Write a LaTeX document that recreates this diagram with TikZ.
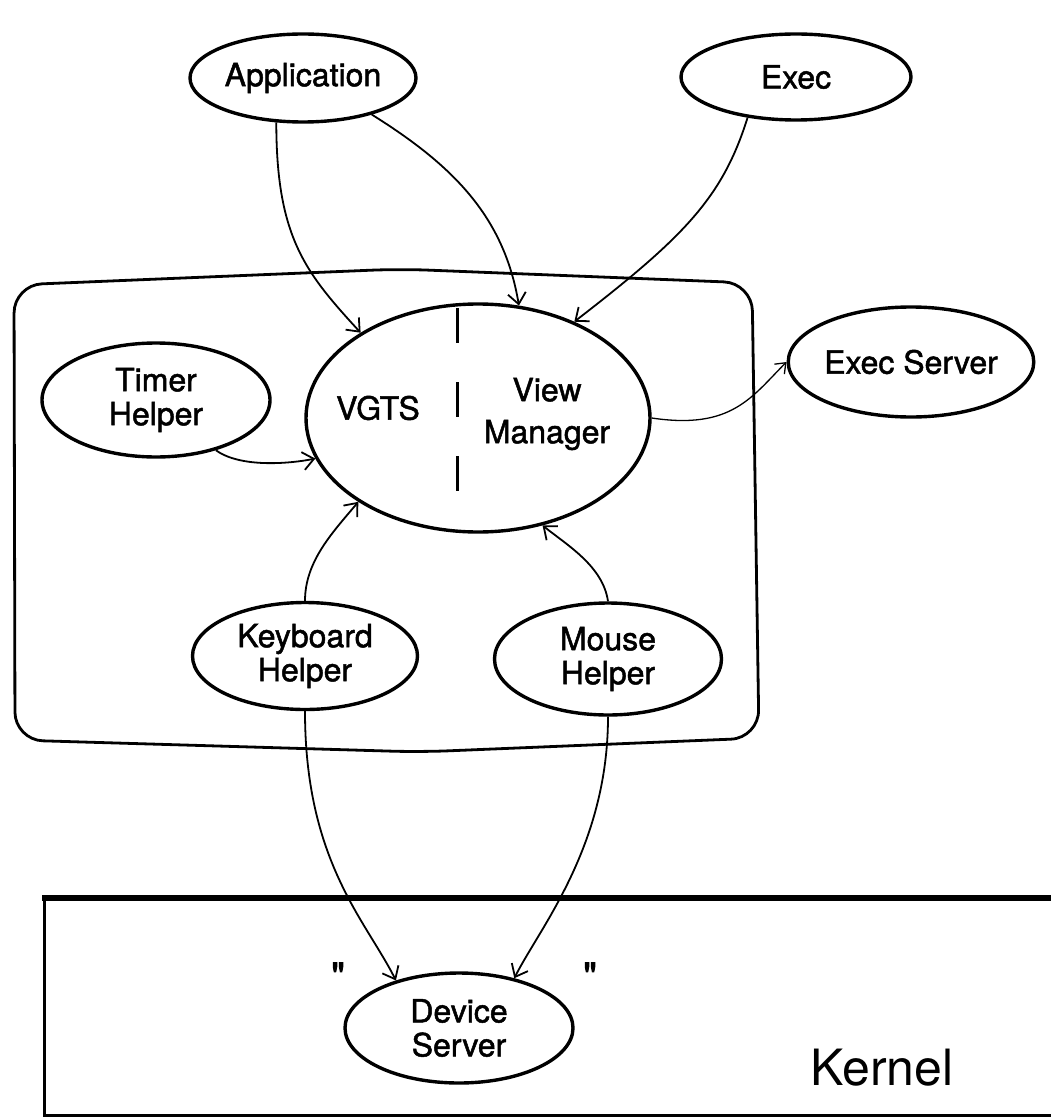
\documentclass[tikz,border=0pt]{standalone}
\usepackage{fontspec}
\setmainfont{TeX Gyre Heros}
\newfontfamily\lblfont{TeX Gyre Heros}[FakeBold=1.5]
\newfontfamily\qfont{TeX Gyre Heros}[Ligatures=TeXOff,FakeBold=2.5]
\usetikzlibrary{shapes.geometric,arrows.meta}
\begin{document}
\begin{tikzpicture}[x=1pt,y=-1pt,
  proc/.style={draw,ellipse,line width=3.4pt,inner sep=0pt,align=center,font=\lblfont\fontsize{32}{34}\selectfont},
  conn/.style={line width=1.8pt,-{Straight Barb[length=11pt,width=18pt]}},
  thinconn/.style={line width=1.3pt,-{Straight Barb[length=9pt,width=14pt]}},
  lbl/.style={font=\lblfont\fontsize{32}{34}\selectfont,align=center,inner sep=0pt},
  quote/.style={font=\qfont\fontsize{38}{40}\selectfont,inner sep=0pt}]
\useasboundingbox (0,0) rectangle (1051,1118);
\clip (0,0) rectangle (1051,1118);

% frames
\draw[line width=2.8pt,rounded corners=28pt] (15,740) -- (14,285) -- (400,269) -- (752,283) -- (759,738) -- (420,752) -- cycle;
\draw[line width=3pt] (1070,1115) -- (44,1115) -- (44,898);
\draw[line width=5.5pt] (42,898) -- (1070,898);

% nodes
\node[proc,minimum width=226pt,minimum height=88pt] (app) at (303,78) {Application};
\node[proc,minimum width=230pt,minimum height=86pt] (exec) at (796,77) {Exec};
\node[proc,minimum width=228pt,minimum height=114pt] (timer) at (156,400) {Timer\\Helper};
\node[proc,minimum width=344pt,minimum height=228pt] (vgts) at (478,418) {};
\node[proc,minimum width=228pt,minimum height=110pt] (es) at (911,362) {Exec Server};
\node[proc,minimum width=225pt,minimum height=107pt] (kb) at (305,656) {Keyboard\\Helper};
\node[proc,minimum width=227pt,minimum height=112pt] (mh) at (608,659) {Mouse\\Helper};
\node[proc,minimum width=228pt,minimum height=110pt] (ds) at (459,1028) {Device\\Server};
\node[lbl] (vg) at (378,408) {VGTS};
\node[lbl,font=\lblfont\fontsize{32}{42}\selectfont] (vm) at (547,414) {View\\Manager};
\node[font=\fontsize{50}{52}\selectfont,inner sep=0pt] (kern) at (882,1068) {Kernel};
\node[quote] (q1) at (338,976) {"};
\node[quote] (q2) at (590,976) {"};

% divider
\draw[line width=3pt,dash pattern=on 35pt off 39pt] (457,308) -- (457,495);

% connectors
\draw[conn] (app.239) .. controls +(0,115) and +(-55,-60) .. (vgts.144);
\draw[conn] (app.-28) .. controls +(80,50) and +(-15,-90) .. (vgts.70);
\draw[conn] (exec.220) .. controls +(-25,80) and +(110,-85) .. (vgts.45);
\draw[conn] (timer.320) .. controls +(25,18) and +(-25,5) .. (vgts.194);
\draw[thinconn] (vgts.0) .. controls +(80,12) and +(-35,35) .. (es.180);
\draw[conn] (kb.90) .. controls +(0,-40) and +(-25,30) .. (vgts.215);
\draw[conn] (mh.90) .. controls +(-5,-35) and +(25,20) .. (vgts.301);
\draw[conn] (kb.270) .. controls +(0,150) and +(-30,-60) .. (ds.143);
\draw[conn] (mh.270) .. controls +(0,130) and +(25,-50) .. (ds.42);
\end{tikzpicture}
\end{document}
